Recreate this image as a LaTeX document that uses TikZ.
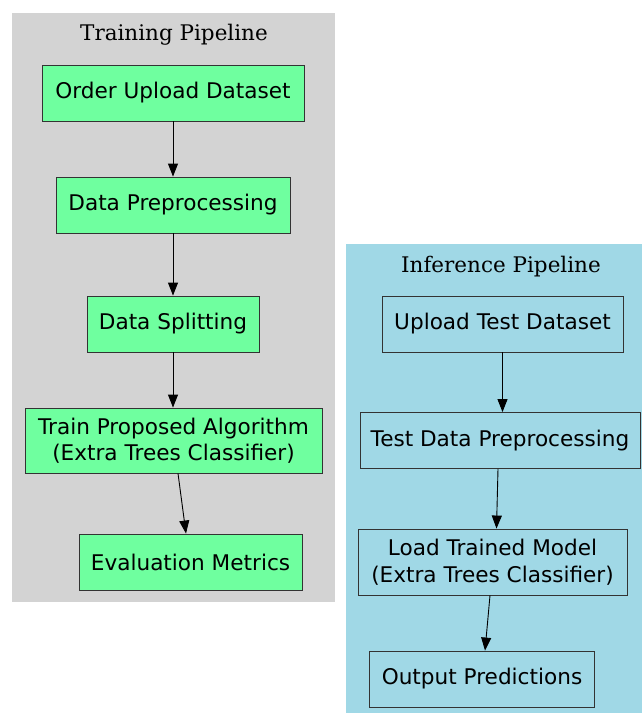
\documentclass[tikz,border=0pt]{standalone}
\usepackage{fontspec}
\newfontfamily\boxfont{DejaVu Sans}
\newfontfamily\titlefont{DejaVu Serif}
\usepackage{xcolor}
\usepackage{tikz}
\usetikzlibrary{arrows.meta}

\definecolor{stagegreen}{HTML}{6FFF9F}
\definecolor{inferblue}{HTML}{A0D8E6}
\definecolor{traingray}{HTML}{D3D3D3}

\tikzset{
  stage/.style={draw=black!80, line width=0.9pt, minimum height=56pt, inner sep=0pt,
    align=center, font=\boxfont\fontsize{21.6}{26.5}\selectfont},
  trainstage/.style={stage, fill=stagegreen},
  inferstage/.style={stage, fill=inferblue},
  flow/.style={-{Triangle[length=13pt,width=10pt]}, line width=0.9pt},
  clustertitle/.style={anchor=base, font=\titlefont\fontsize{21.5}{26}\selectfont}
}

\begin{document}
\begin{tikzpicture}[x=1pt,y=-1pt]
\useasboundingbox (0,0) rectangle (642,713);

% Clusters
\fill[traingray] (12,13) rectangle (335,602);
\node[clustertitle] (traintitle) at (174,40) {Training Pipeline};
\fill[inferblue] (346,244) rectangle (642,713);
\node[clustertitle] (infertitle) at (501,272) {Inference Pipeline};

% Training pipeline
\node[trainstage, minimum width=262pt] (upload) at (173,93) {Order Upload Dataset};
\node[trainstage, minimum width=234pt] (prep) at (173,205) {Data Preprocessing};
\node[trainstage, minimum width=172pt] (split) at (173,324) {Data Splitting};
\node[trainstage, minimum width=297pt, minimum height=65pt] (train) at (173.5,440.5)
  {Train Proposed Algorithm\\(Extra Trees Classifier)};
\node[trainstage, minimum width=223pt] (evalm) at (190.5,562) {Evaluation Metrics};

\draw[flow] (upload) -- (prep);
\draw[flow] (prep) -- (split);
\draw[flow] (split) -- ([xshift=-0.5pt]train.north);
\draw[flow] ([xshift=4.5pt]train.south) -- ([xshift=-4.5pt]evalm.north);

% Inference pipeline
\node[inferstage, minimum width=241pt] (testup) at (502.5,324) {Upload Test Dataset};
\node[inferstage, minimum width=280pt] (testprep) at (500,440.5) {Test Data Preprocessing};
\node[inferstage, minimum width=269pt, minimum height=66pt] (loadm) at (492.5,562)
  {Load Trained Model\\(Extra Trees Classifier)};
\node[inferstage, minimum width=225pt] (outp) at (482,679) {Output Predictions};

\draw[flow] (testup) -- ([xshift=2.5pt]testprep.north);
\draw[flow] ([xshift=-2pt]testprep.south) -- ([xshift=4pt]loadm.north);
\draw[flow] ([xshift=-2.5pt]loadm.south) -- ([xshift=3pt]outp.north);
\end{tikzpicture}
\end{document}
